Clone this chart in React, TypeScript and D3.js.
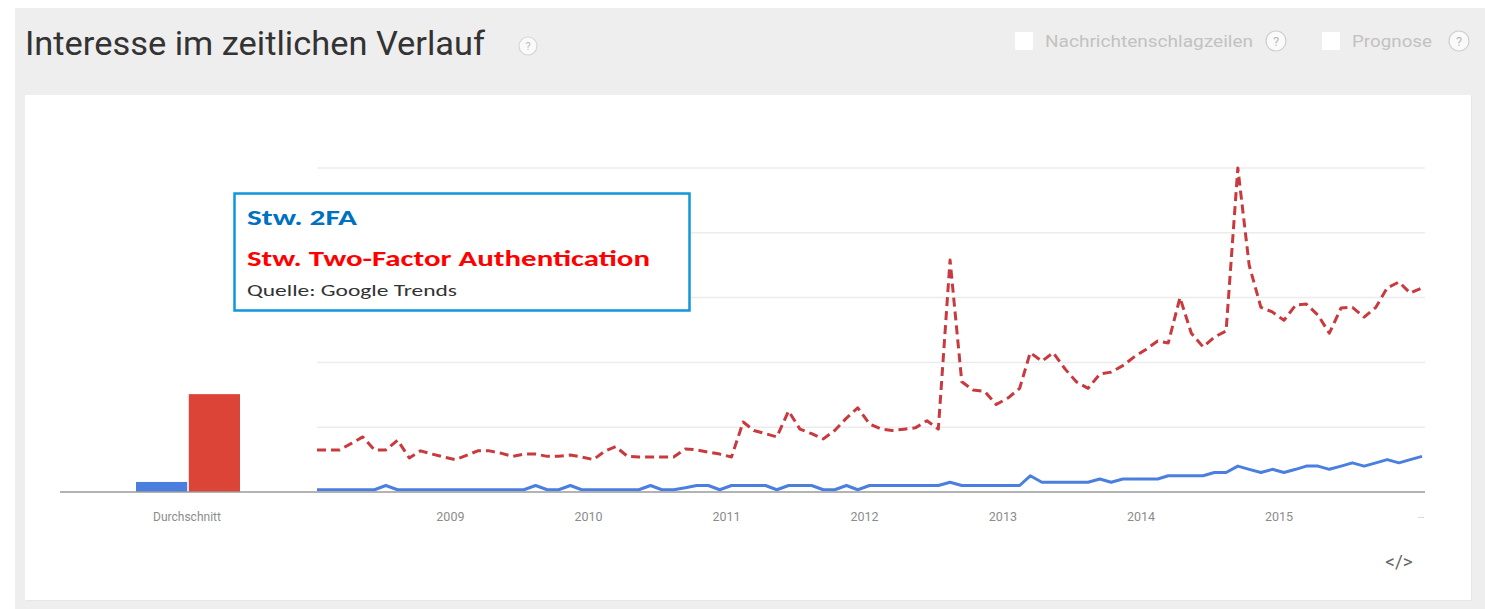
import React from "react";
import * as d3 from "d3";

const W = 1485;
const H = 609;

const START = new Date(2008, 0, 1);
const monthCount = 97;
const months: Date[] = Array.from({ length: monthCount }, (_, i) => new Date(2008, i, 1));

const twoFactorAuth: number[] = [
  13, 13, 13, 15, 17, 13, 13, 16, 10.5, 12.7,
  11.7, 10.8, 10, 11.4, 12.7, 12.7, 12, 11, 11.7, 11.7,
  11, 11, 11.4, 10.8, 10, 12.7, 14, 11, 10.8, 10.8,
  10.8, 10.8, 13.3, 13, 12.3, 11.7, 10.8, 21.6, 19, 18,
  17, 25, 19.4, 18, 16.4, 19, 22.8, 26, 21, 19.4,
  19, 19.4, 19.8, 22, 19.4, 71.6, 34, 31.5, 31, 27,
  29, 32, 43, 40.4, 43, 38, 34, 32, 36.4, 37,
  39, 41.7, 44, 46.6, 46, 60, 49, 44.8, 47.8, 49.7,
  100, 70, 57, 55.6, 53, 57.7, 58, 54.6, 49, 56.8,
  57, 54, 57, 63, 64.8, 61.4, 63,
];

const twoFA: number[] = [
  0.7, 0.7, 0.7, 0.7, 0.7, 0.7, 2, 0.7, 0.7, 0.7,
  0.7, 0.7, 0.7, 0.7, 0.7, 0.7, 0.7, 0.7, 0.7, 2,
  0.7, 0.7, 2, 0.7, 0.7, 0.7, 0.7, 0.7, 0.7, 2,
  0.7, 0.7, 1.3, 2, 2, 0.7, 2, 2, 2, 2,
  0.7, 2, 2, 2, 0.7, 0.7, 2, 0.7, 2, 2,
  2, 2, 2, 2, 2, 3, 2, 2, 2, 2,
  2, 2, 5, 3, 3, 3, 3, 3, 4, 3,
  4, 4, 4, 4, 5, 5, 5, 5, 6, 6,
  8, 7, 6, 7, 6, 7, 8, 8, 7, 8,
  9, 8, 9, 10, 9, 10, 11,
];

const averages = [
  { name: "Stw. 2FA", value: 3.1, color: "#4a7fe0" },
  { name: "Stw. Two-Factor Authentication", value: 30.2, color: "#db4437" },
];

const yearLabels = ["2009", "2010", "2011", "2012", "2013", "2014", "2015"];
const gridValues = [20, 40, 60, 80, 100];

export default function App() {
  const x = d3.scaleTime().domain([START, new Date(2016, 0, 1)]).range([317, 1422]);
  const y = d3.scaleLinear().domain([0, 100]).range([492, 168]);
  const band = d3.scaleBand<string>().domain(averages.map((d) => d.name)).range([136, 240]).paddingInner(0.03);

  const line = d3
    .line<number>()
    .x((_, i) => x(months[i]))
    .y((d) => y(d));

  const fontUI = "Roboto, 'Liberation Sans', Arial, sans-serif";
  const fontLegend = "Carlito, 'Open Sans', 'Liberation Sans', sans-serif";

  return (
    <svg
      width={W}
      height={H}
      style={{ position: "absolute", left: 0, top: 0, display: "block" }}
      xmlns="http://www.w3.org/2000/svg"
    >
      <rect x={0} y={0} width={W} height={H} fill="#ffffff" />
      <rect x={15} y={8} width={W - 15} height={H - 8} fill="#efeeee" />
      {/* header */}
      <text x={25} y={55} fontFamily={fontUI} fontSize={33} fill="#333" textLength={460} lengthAdjust="spacingAndGlyphs">
        Interesse im zeitlichen Verlauf
      </text>
      <circle cx={528} cy={46} r={9} fill="#fafafa" stroke="#d6d6d6" strokeWidth={1.2} />
      <text x={528} y={50} textAnchor="middle" fontFamily={fontUI} fontSize={11} fill="#bbb">?</text>

      <rect x={1015} y={32} width={18} height={18} fill="#ffffff" />
      <text x={1045} y={47} fontFamily={fontUI} fontSize={16} fill="#c2c2c2" textLength={208} lengthAdjust="spacingAndGlyphs">
        Nachrichtenschlagzeilen
      </text>
      <circle cx={1276} cy={41} r={10} fill="#fafafa" stroke="#cfcfcf" strokeWidth={1.2} />
      <text x={1276} y={46} textAnchor="middle" fontFamily={fontUI} fontSize={13} fill="#bbb">?</text>

      <rect x={1322} y={32} width={18} height={18} fill="#ffffff" />
      <text x={1352} y={47} fontFamily={fontUI} fontSize={16} fill="#c2c2c2" textLength={80} lengthAdjust="spacingAndGlyphs">
        Prognose
      </text>
      <circle cx={1459} cy={41} r={10} fill="#fafafa" stroke="#cfcfcf" strokeWidth={1.2} />
      <text x={1459} y={46} textAnchor="middle" fontFamily={fontUI} fontSize={13} fill="#bbb">?</text>

      {/* card */}
      <rect x={26} y={96} width={1446} height={505} fill="#e6e6e6" />
      <rect x={25} y={95} width={1446} height={505} fill="#ffffff" />

      {/* grid */}
      {gridValues.map((g) => (
        <line key={g} x1={317} x2={1425} y1={y(g)} y2={y(g)} stroke="#ececec" strokeWidth={1.5} />
      ))}

      {/* average bars */}
      {averages.map((d) => (
        <rect
          key={d.name}
          x={band(d.name)}
          y={y(d.value)}
          width={band.bandwidth()}
          height={y(0) - y(d.value)}
          fill={d.color}
        />
      ))}
      <text x={187} y={521} textAnchor="middle" fontFamily={fontUI} fontSize={12} fill="#8c8c8c">
        Durchschnitt
      </text>

      {/* lines */}
      <path d={line(twoFA) || ""} fill="none" stroke="#4a7fe0" strokeWidth={3} strokeLinejoin="round" />
      <path
        d={line(twoFactorAuth) || ""}
        fill="none"
        stroke="#c83a3e"
        strokeWidth={3}
        strokeDasharray="9,5"
        strokeLinejoin="round"
      />

      {/* baseline */}
      <line x1={60} x2={1425} y1={y(0)} y2={y(0)} stroke="#9a9a9a" strokeWidth={1.5} />

      {/* x labels */}
      {yearLabels.map((lab) => (
        <text
          key={lab}
          x={x(new Date(+lab, 0, 1)) - 5}
          y={521}
          textAnchor="middle"
          fontFamily={fontUI}
          fontSize={12.5}
          fill="#8c8c8c"
        >
          {lab}
        </text>
      ))}
      <text x={1421} y={518} textAnchor="middle" fontFamily={fontUI} fontSize={10} fill="#bbb">…</text>

      {/* embed icon */}
      <text x={1399} y={568} textAnchor="middle" fontFamily={fontUI} fontSize={19} fill="#666">
        {"</>"}
      </text>

      {/* legend box */}
      <rect x={234.5} y={193.5} width={455} height={117} fill="#ffffff" stroke="#1196d9" strokeWidth={2.5} />
      <text x={247} y={225} fontFamily={fontLegend} fontWeight="bold" fontSize={23} fill="#0070c0" textLength={110} lengthAdjust="spacingAndGlyphs">
        Stw. 2FA
      </text>
      <text x={247} y={266} fontFamily={fontLegend} fontWeight="bold" fontSize={23} fill="#ff0000" textLength={403} lengthAdjust="spacingAndGlyphs">
        Stw. Two-Factor Authentication
      </text>
      <text x={247} y={296} fontFamily={fontLegend} fontSize={16} fill="#333" textLength={210} lengthAdjust="spacingAndGlyphs">
        Quelle: Google Trends
      </text>
    </svg>
  );
}
